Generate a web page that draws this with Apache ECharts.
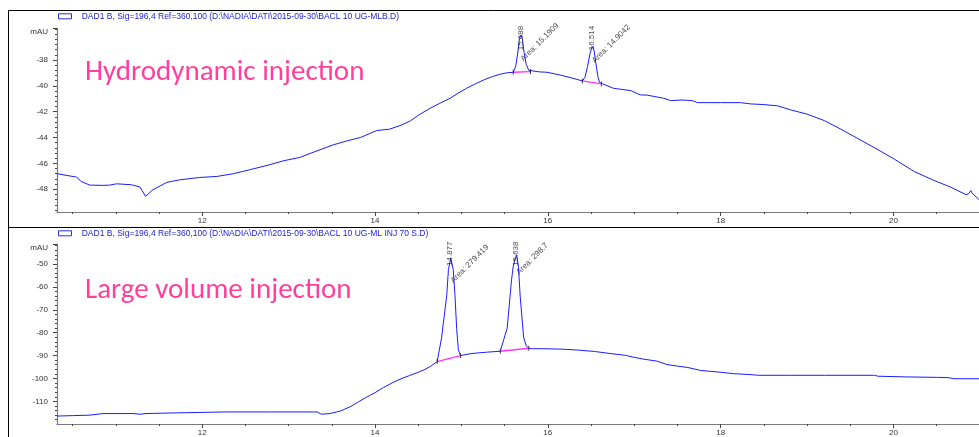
<!DOCTYPE html>
<html>
<head>
<meta charset="utf-8">
<style>
  html, body { margin: 0; padding: 0; background: #fff; }
  #chart { width: 979px; height: 437px; }
</style>
<script src="https://cdn.jsdelivr.net/npm/echarts@6/dist/echarts.min.js"></script>
</head>
<body>
<div id="chart"></div>
<script>
// ---- Hydrodynamic injection (DAD1 B, BACL 10 UG-MLB.D) ----
const hydroTime = [
  10.32, 10.45, 10.545, 10.60, 10.70, 10.85, 10.93, 11.01, 11.18, 11.28, 11.345, 11.43,
  11.59, 11.74, 11.97, 12.17, 12.36, 12.55, 12.75, 12.94, 13.13, 13.30, 13.52, 13.68,
  13.83, 14.02, 14.17, 14.30, 14.41, 14.52, 14.64, 14.75, 14.87, 14.96, 15.06, 15.16,
  15.26, 15.36, 15.45, 15.52, 15.60,
  15.63, 15.655, 15.672, 15.688, 15.705, 15.725, 15.75, 15.78, 15.80,
  15.90, 15.99, 16.14, 16.28, 16.40,
  16.43, 16.46, 16.49, 16.514, 16.535, 16.555, 16.58, 16.60, 16.62,
  16.76, 16.96, 17.07, 17.15, 17.34, 17.42, 17.55, 17.67, 17.73, 18.00, 18.23, 18.35,
  18.50, 18.66, 18.81, 19.00, 19.20, 19.39, 19.58, 19.81, 20.01, 20.24, 20.47, 20.66,
  20.84, 20.87, 20.895, 20.91, 20.93, 20.99
];
const hydroSignal = [
  -46.80, -46.95, -47.06, -47.40, -47.68, -47.70, -47.68, -47.58, -47.65, -47.83, -48.55, -48.04,
  -47.47, -47.27, -47.09, -47.01, -46.80, -46.49, -46.16, -45.80, -45.54, -45.10, -44.56, -44.25,
  -44.00, -43.46, -43.35, -43.05, -42.71, -42.20, -41.73, -41.35, -40.96, -40.58, -40.19, -39.85,
  -39.54, -39.28, -39.10, -39.00, -38.95,
  -38.45, -37.30, -36.35, -36.08, -36.35, -37.40, -38.35, -38.80, -38.90,
  -38.92, -38.95, -39.16, -39.40, -39.62,
  -39.35, -38.50, -37.45, -36.95, -37.25, -38.20, -39.30, -39.75, -39.85,
  -40.19, -40.37, -40.70, -40.72, -40.96, -41.14, -41.10, -41.14, -41.30, -41.30, -41.30, -41.40,
  -41.45, -41.55, -41.86, -42.19, -42.69, -43.35, -44.05, -44.90, -45.67, -46.63, -47.32, -47.83,
  -48.42, -48.35, -48.10, -48.30, -48.42, -48.80
];
const hydroPeakRT = [15.688, 16.514];
const hydroPeakArea = ['15.1909', '14.9042'];
const hydroPeakStart = [[15.60, -38.95], [16.40, -39.62]];
const hydroPeakEnd = [[15.80, -38.90], [16.62, -39.85]];

// ---- Large volume injection (DAD1 B, BACL 10 UG-ML INJ 70 S.D) ----
const largeTime = [
  10.32, 10.50, 10.70, 10.85, 11.20, 11.28, 11.35, 11.70, 12.28, 12.80, 13.33, 13.38,
  13.48, 13.60, 13.71, 13.80, 13.90, 14.00, 14.10, 14.20, 14.29, 14.40, 14.50, 14.58,
  14.65, 14.72,
  14.77, 14.83, 14.85, 14.877, 14.906, 14.926, 14.945, 14.965, 14.99,
  15.10, 15.20, 15.30, 15.45,
  15.53, 15.58, 15.60, 15.638, 15.66, 15.68, 15.72, 15.75, 15.78,
  15.81, 15.95, 16.17, 16.35, 16.54, 16.72, 16.90, 16.99, 17.10, 17.26, 17.38, 17.50,
  17.62, 17.77, 17.98, 18.15, 18.34, 18.44, 18.80, 19.20, 19.78, 19.82, 20.14, 20.50,
  20.63, 20.70, 20.99
];
const largeSignal = [
  -116.4, -116.2, -116.0, -115.3, -115.3, -115.6, -115.3, -115.0, -114.6, -114.6, -114.6, -115.6,
  -115.3, -114.2, -112.4, -110.4, -108.2, -106.2, -103.9, -101.9, -100.3, -98.7, -97.3, -96.0,
  -94.5, -92.6,
  -82.4, -63.9, -52.4, -47.5, -52.4, -63.9, -78.2, -87.5, -90.0,
  -89.2, -88.8, -88.5, -88.1,
  -78.0, -57.0, -51.0, -46.0, -51.0, -64.0, -82.0, -85.8, -86.8,
  -87.0, -87.0, -87.2, -87.6, -88.2, -89.1, -89.9, -90.7, -91.5, -92.4, -93.9, -94.6,
  -95.2, -96.5, -97.2, -97.9, -98.3, -98.6, -98.6, -98.6, -98.6, -99.0, -99.3, -99.5,
  -99.6, -100.1, -100.1
];
const largePeakRT = [14.877, 15.638];
const largePeakArea = ['279.419', '298.7'];
const largePeakStart = [[14.72, -92.6], [15.45, -88.1]];
const largePeakEnd = [[14.99, -90.0], [15.78, -86.8]];

// ---- Axes ----
const timeRange = [10.32, 20.99];
const timeTickLabels = [12, 14, 16, 18, 20];
const hydroRange = [-49.76, -35.55];
const hydroTickLabels = [-38, -40, -42, -44, -46, -48];
const largeRange = [-119.86, -41.3];
const largeTickLabels = [-50, -60, -70, -80, -90, -100, -110];

const headers = [
  'DAD1 B, Sig=196,4 Ref=360,100 (D:\\NADIA\\DATI\\2015-09-30\\BACL 10 UG-MLB.D)',
  'DAD1 B, Sig=196,4 Ref=360,100 (D:\\NADIA\\DATI\\2015-09-30\\BACL 10 UG-ML INJ 70 S.D)'
];
const panelTitles = ['Hydrodynamic injection', 'Large volume injection'];

// ---- styling ----
const FONT = '"Liberation Sans", Arial, sans-serif';
const TRACE = '#1c1cff';
const AXIS_LINE = '#7a7a7a';
const TICK = '#444';
const LABEL = '#333';
const PINK = '#ff3f9b';

function steps(from, to, step) {
  const out = [];
  for (let v = from; v <= to + 1e-9; v += step) out.push(+v.toFixed(4));
  return out;
}
const minorTimeTicks = steps(10.5, 20.5, 0.5);
const hydroMinor = steps(-49.6, -35.6, 0.4);
const largeMinor = steps(-118, -42, 2);

// label offsets are applied in the label's rotated frame; convert a screen shift into it
function rotatedOffset(dx, dy, deg) {
  const a = deg * Math.PI / 180;
  return [dx * Math.cos(a) - dy * Math.sin(a), dx * Math.sin(a) + dy * Math.cos(a)];
}

const grids = [
  { left: 57, right: 0, top: 28.3, bottom: 225, containLabel: false },
  { left: 57, right: 0, top: 244, bottom: 9.7, containLabel: false }
];

function timeAxis(gridIndex, major) {
  return {
    type: 'value', gridIndex, min: timeRange[0], max: timeRange[1], position: 'bottom',
    axisLine: { show: major, lineStyle: { color: AXIS_LINE, width: 1.2 } },
    axisTick: major
      ? { show: true, length: 4, customValues: timeTickLabels, lineStyle: { color: TICK } }
      : { show: true, length: 2, customValues: minorTimeTicks, lineStyle: { color: TICK } },
    axisLabel: major
      ? { show: true, customValues: timeTickLabels, fontSize: 8, fontFamily: FONT, color: LABEL, margin: 5 }
      : { show: false },
    splitLine: { show: false }
  };
}
function signalAxis(gridIndex, range, labels, minor, major) {
  const majorVals = [range[1]].concat(labels);
  return {
    type: 'value', gridIndex, min: range[0], max: range[1], position: 'left',
    axisLine: { show: major, lineStyle: { color: AXIS_LINE, width: 1.2 } },
    axisTick: major
      ? { show: true, length: 4, customValues: majorVals, lineStyle: { color: TICK } }
      : { show: true, length: 2, customValues: minor, lineStyle: { color: TICK } },
    axisLabel: major
      ? {
          show: true, customValues: majorVals, fontSize: 8, fontFamily: FONT, color: LABEL, margin: 9,
          formatter: v => (Math.abs(v - range[1]) < 1e-6 ? '{u|mAU}' : String(v)),
          rich: { u: { fontSize: 8, fontFamily: FONT, color: LABEL, padding: [7, 0, 0, 0] } }
        }
      : { show: false },
    splitLine: { show: false }
  };
}

function zip(ts, vs) { return ts.map((t, i) => [t, vs[i]]); }

function panelSeries(p, time, signal, rts, areas, starts, ends, yMax, areaShift) {
  const series = [];
  series.push({
    type: 'line', xAxisIndex: p, yAxisIndex: p, data: zip(time, signal),
    showSymbol: false, symbol: 'none', silent: true,
    lineStyle: { color: TRACE, width: 1 }, z: 3
  });
  starts.forEach((s, i) => {
    series.push({
      type: 'line', xAxisIndex: p, yAxisIndex: p, data: [s, ends[i]],
      symbol: 'none', silent: true, lineStyle: { color: '#ff33ff', width: 1.3 }, z: 4
    });
  });
  // integration boundary marks
  series.push({
    type: 'scatter', xAxisIndex: p, yAxisIndex: p, data: starts.concat(ends),
    symbol: 'rect', symbolSize: [1, 5], itemStyle: { color: '#111' }, silent: true, z: 5
  });
  // retention time labels, written upward just under the panel top
  series.push({
    type: 'scatter', xAxisIndex: p, yAxisIndex: p,
    data: rts.map(rt => ({ value: [rt, yMax], name: rt.toFixed(3) })),
    symbolSize: 1, itemStyle: { color: 'rgba(0,0,0,0)' }, silent: true, z: 6,
    label: {
      show: true, position: [0, 0], rotate: 90, align: 'right', verticalAlign: 'middle',
      offset: rotatedOffset(0, -2, 90), formatter: d => d.name,
      fontSize: 8, fontFamily: FONT, color: '#222'
    }
  });
  // area labels at 45 degrees beside each retention time
  series.push({
    type: 'scatter', xAxisIndex: p, yAxisIndex: p,
    data: rts.map((rt, i) => ({
      value: [rt, yMax], name: 'Area: ' + areas[i],
      label: { offset: rotatedOffset(areaShift[i][0], areaShift[i][1], 45) }
    })),
    symbolSize: 1, itemStyle: { color: 'rgba(0,0,0,0)' }, silent: true, z: 6,
    label: {
      show: true, position: [0, 0], rotate: 45, align: 'left', verticalAlign: 'bottom',
      formatter: d => d.name, fontSize: 8, fontFamily: FONT, color: '#222'
    }
  });
  return series;
}

const series = []
  .concat(panelSeries(0, hydroTime, hydroSignal, hydroPeakRT, hydroPeakArea,
    hydroPeakStart, hydroPeakEnd, hydroRange[1], [[4.5, 35], [4.5, 36.7]]))
  .concat(panelSeries(1, largeTime, largeSignal, largePeakRT, largePeakArea,
    largePeakStart, largePeakEnd, largeRange[1], [[4.5, 41], [4.5, 32.7]]));

const graphics = [
  // panel frames
  { type: 'line', shape: { x1: 8.5, y1: 10.5, x2: 979, y2: 10.5 }, style: { stroke: '#000', lineWidth: 1 } },
  { type: 'line', shape: { x1: 8.5, y1: 10.5, x2: 8.5, y2: 437 }, style: { stroke: '#000', lineWidth: 1 } },
  { type: 'line', shape: { x1: 8.5, y1: 227.5, x2: 979, y2: 227.5 }, style: { stroke: '#000', lineWidth: 1 } }
];
[16.3, 233.3].forEach((y, i) => {
  graphics.push({
    type: 'rect', shape: { x: 58.5, y: y - 2.5, width: 13, height: 5 },
    style: { fill: 'none', stroke: '#2a2ae6', lineWidth: 1 }
  });
  graphics.push({
    type: 'text', x: 81.7, y: y,
    style: { text: headers[i], font: '8.5px ' + FONT, fill: '#2222dd', verticalAlign: 'middle' }
  });
});
[[85, 73], [85, 290.3]].forEach((pos, i) => {
  graphics.push({
    type: 'text', x: pos[0], y: pos[1],
    style: { text: panelTitles[i], font: '29px Carlito, Lato, sans-serif', fill: PINK, verticalAlign: 'middle' }
  });
});

const chart = echarts.init(document.getElementById('chart'), null, { renderer: 'canvas' });
chart.setOption({
  animation: false,
  backgroundColor: '#fff',
  grid: grids,
  xAxis: [timeAxis(0, true), timeAxis(1, true), timeAxis(0, false), timeAxis(1, false)],
  yAxis: [
    signalAxis(0, hydroRange, hydroTickLabels, hydroMinor, true),
    signalAxis(1, largeRange, largeTickLabels, largeMinor, true),
    signalAxis(0, hydroRange, hydroTickLabels, hydroMinor, false),
    signalAxis(1, largeRange, largeTickLabels, largeMinor, false)
  ],
  series: series,
  graphic: graphics
});
</script>
</body>
</html>
